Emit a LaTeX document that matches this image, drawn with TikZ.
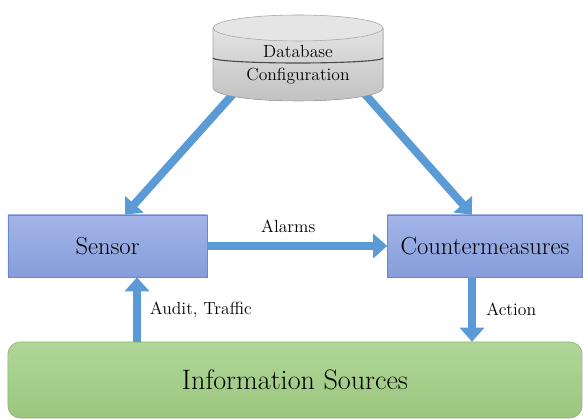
\documentclass[tikz,border=0pt]{standalone}
\usetikzlibrary{arrows.meta}
\definecolor{flowblue}{HTML}{5B9BD5}
\definecolor{boxtop}{HTML}{A3B5E8}
\definecolor{boxbot}{HTML}{869DDA}
\definecolor{boxline}{HTML}{6A86CC}
\definecolor{infotop}{HTML}{B0D698}
\definecolor{infobot}{HTML}{9BC67E}
\definecolor{infoline}{HTML}{88B46C}

\begin{document}
\begin{tikzpicture}[x=0.025cm,y=0.025cm,
  box/.style={draw=boxline,top color=boxtop,bottom color=boxbot,minimum width=4.975cm,minimum height=1.55cm,inner xsep=2pt,font=\fontsize{17.5}{20}\selectfont},
  flow/.style={flowblue,line width=2mm,-{Triangle[length=3.5mm,width=6mm]}},
  lbl/.style={text=black,font=\fontsize{12.5}{16.5}\selectfont}]
\useasboundingbox (0,0) rectangle (583,419);
\coordinate (dbl) at (234,326);
\coordinate (dbr) at (363,327);
\coordinate (sensx) at (125,0);
\coordinate (cntx) at (472,0);
\coordinate (auditx) at (137,0);
\coordinate (actx) at (472,0);
\node[box] (sensor) at (107.5,173) {Sensor};
\node[box,minimum width=4.875cm] (counter) at (485,173) {Countermeasures};
\node[draw=infoline,top color=infotop,bottom color=infobot,rounded corners=0.3cm,minimum width=14.35cm,minimum height=1.9cm,font=\fontsize{20}{22}\selectfont] (info) at (295,39) {Information Sources};
\draw[flow] (dbl) -- (sensor.north -| sensx);
\draw[flow] (dbr) -- (counter.north -| cntx);
% database cylinder
\fill[top color=gray!22,bottom color=gray!48] (213,391) -- (213,331) arc[start angle=180,end angle=360,x radius=85,y radius=13] -- (383,391) -- cycle;
\draw[gray!70] (213,391) -- (213,331) arc[start angle=180,end angle=360,x radius=85,y radius=13] -- (383,391);
\filldraw[fill=gray!20,draw=gray!70] (298,391) ellipse[x radius=85,y radius=13];
\draw[black!70,thick] (213,361) arc[start angle=180,end angle=360,x radius=85,y radius=5];
\node[align=center,lbl] (db) at (298,354) {Database\\Configuration};
% flows between boxes
\draw[flow] (sensor.east) -- (counter.west) node[pos=0.45,above=3pt,lbl]{Alarms};
\draw[flow] (info.north -| auditx) -- (sensor.south -| auditx) node[midway,right=3pt,lbl]{Audit, Traffic};
\draw[flow] (counter.south -| actx) -- (info.north -| actx) node[midway,right=4pt,lbl]{Action};
\end{tikzpicture}
\end{document}
